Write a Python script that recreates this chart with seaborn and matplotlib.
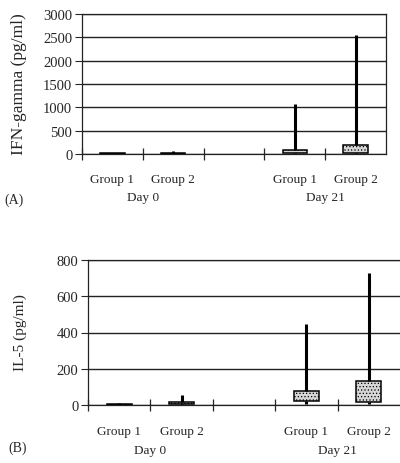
import numpy as np
import pandas as pd
import matplotlib
matplotlib.use('Agg')
import matplotlib.pyplot as plt
import seaborn as sns


# Positions sur l'axe x (une place vide entre Day 0 et Day 21)
positions = ['D0G1', 'D0G2', 'vide', 'D21G1', 'D21G2']
groupes = ['D0G1', 'D0G2', 'D21G1', 'D21G2']
etiquettes = ['Group 1', 'Group 2', 'Group 1', 'Group 2']
jours = ['Day 0', 'Day 21']

# Valeurs : min, q1, mediane, q3, max
ifn_d0g1 = [0, 3, 6, 12, 25]
ifn_d0g2 = [0, 5, 12, 30, 70]
ifn_d21g1 = [0, 15, 50, 95, 1075]
ifn_d21g2 = [0, 20, 80, 190, 2555]

il5_d0g1 = [0, 1, 3, 6, 10]
il5_d0g2 = [0, 6, 10, 16, 55]
il5_d21g1 = [5, 22, 40, 77, 445]
il5_d21g2 = [5, 15, 50, 132, 730]


###########################################################

def trace_panneau(ax, series, ymax, pas):
    '''
        boite a moustaches d'un panneau, moustaches du min au max
    '''
    df = pd.DataFrame({'groupe': np.repeat(groupes, 5),
                       'valeur': np.concatenate(series)})
    sns.boxplot(data=df, x='groupe', y='valeur', order=positions, width=0.4,
                whis=(0, 100), color='#d6d6d6', saturation=1,
                linecolor='black', linewidth=1.1, showcaps=False,
                medianprops={'visible': False},
                whiskerprops={'linewidth': 2.2}, ax=ax)
    # remplissage pointille comme sur l'original
    for p in ax.patches:
        p.set_hatch('.....')

    ax.set_xlim(-0.5, 4.5)
    ax.set_ylim(0, ymax)
    ax.set_yticks(np.arange(0, ymax + 1, pas))
    ax.yaxis.grid(True, color='#222222', linewidth=1)
    ax.set_axisbelow(True)

    ax.set_xticks([0, 1, 3, 4])
    ax.set_xticklabels([])
    ax.set_xticks([-0.5, 0.5, 1.5, 2.5, 3.5], minor=True)
    ax.tick_params(axis='x', which='major', length=0)
    ax.tick_params(axis='x', which='minor', length=8, width=0.9,
                   direction='inout')
    ax.tick_params(axis='y', length=5, width=0.8, labelsize=10.5, pad=2)
    ax.set_xlabel('')
    ax.set_ylabel('')

    for x, lab in zip([0, 1, 3, 4], etiquettes):
        ax.text(x, -0.18, lab, transform=ax.get_xaxis_transform(),
                ha='center', va='center', fontsize=9.5)
    for x, j in zip([0.5, 3.5], jours):
        ax.text(x, -0.31, j, transform=ax.get_xaxis_transform(),
                ha='center', va='center', fontsize=9.5)

    for s in ax.spines.values():
        s.set_color('#222222')
        s.set_linewidth(0.9)


sns.set_style('ticks')
plt.rcParams['font.family'] = ['Liberation Serif', 'DejaVu Serif']
plt.rcParams['hatch.linewidth'] = 0.5

fig = plt.figure(figsize=(4, 4.64), dpi=100)
ax_a = fig.add_axes([0.205, 0.666, 0.76, 0.302])
ax_b = fig.add_axes([0.22, 0.125, 0.78, 0.3125])

trace_panneau(ax_a, [ifn_d0g1, ifn_d0g2, ifn_d21g1, ifn_d21g2], 3000, 500)
trace_panneau(ax_b, [il5_d0g1, il5_d0g2, il5_d21g1, il5_d21g2], 800, 200)
ax_b.spines['right'].set_visible(False)

fig.text(0.047, 1 - 84 / 464, 'IFN-gamma (pg/ml)', rotation=90,
         ha='center', va='center', fontsize=12.5)
fig.text(0.05, 1 - 333 / 464, 'IL-5 (pg/ml)', rotation=90,
         ha='center', va='center', fontsize=11)
fig.text(0.012, 1 - 200 / 464, '(A)', ha='left', va='center', fontsize=10)
fig.text(0.02, 1 - 448 / 464, '(B)', ha='left', va='center', fontsize=10)

plt.savefig('out.png', dpi=100)
